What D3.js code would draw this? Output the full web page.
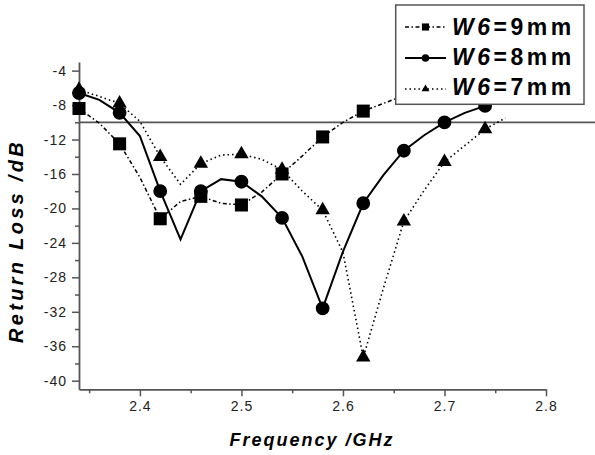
<!DOCTYPE html>
<html>
<head>
<meta charset="utf-8">
<script src="https://cdn.jsdelivr.net/npm/d3@7"></script>
<style>
  body { margin: 0; background: #fff; }
  text { font-family: "Liberation Sans", Arial, sans-serif; }
</style>
</head>
<body>
<div id="chart"></div>
<script>
// frequency points (GHz), markers every second point
var freq = [2.34, 2.36, 2.38, 2.40, 2.42, 2.44, 2.46, 2.48, 2.50, 2.52, 2.54,
            2.56, 2.58, 2.60, 2.62, 2.64, 2.66, 2.68, 2.70, 2.72, 2.74, 2.76];
var w9 = [-8.4, -10.1, -12.5, -16.4, -21.2, -19.2, -18.6, -19.4, -19.6, -18.1, -16.0,
          -13.9, -11.7, -10.0, -8.7, -7.8, -6.9, null, null, null, null, null];
var w8 = [-6.6, -7.4, -8.9, -11.6, -18.0, -23.6, -18.0, -16.6, -16.9, -18.6, -21.1,
          -25.6, -31.6, -25.0, -19.4, -16.1, -13.3, -11.5, -10.0, -8.9, -8.1, -7.3];
var w7 = [-6.2, -7.0, -7.8, -9.9, -14.0, -17.2, -14.8, -13.8, -13.7, -14.3, -15.5,
          -18.0, -20.2, -25.1, -37.3, -29.2, -21.5, -17.9, -14.6, -12.7, -10.8, -9.5];
var seriesNames = ['W6', 'W6', 'W6'];
var seriesUnits = ['=9mm', '=8mm', '=7mm'];
var xTicks = [2.4, 2.5, 2.6, 2.7, 2.8];
var xMinor = [2.35, 2.45, 2.55, 2.65, 2.75];
var yTicks = [-40, -36, -32, -28, -24, -20, -16, -12, -8, -4];
var yMinor = [-38, -34, -30, -26, -22, -18, -14, -10, -6];
var refLevel = -10;

var width = 595, height = 455;
var svg = d3.select('#chart').append('svg')
    .attr('width', width)
    .attr('height', height);

var x = d3.scaleLinear().domain([2.34, 2.8]).range([79, 546]);
var y = d3.scaleLinear().domain([-41, -3]).range([389.3, 62]);

var axisColor = '#555';

// minor ticks
svg.append('g')
    .attr('transform', 'translate(0,' + y(-41) + ')')
    .call(d3.axisBottom(x).tickValues(xMinor).tickSize(4).tickFormat('').tickSizeOuter(0))
    .call(function (g) { g.select('.domain').remove(); });
svg.append('g')
    .attr('transform', 'translate(' + x(2.34) + ',0)')
    .call(d3.axisLeft(y).tickValues(yMinor).tickSize(4).tickFormat('').tickSizeOuter(0))
    .call(function (g) { g.select('.domain').remove(); });

var xAxis = svg.append('g')
    .attr('transform', 'translate(0,' + y(-41) + ')')
    .call(d3.axisBottom(x).tickValues(xTicks).tickSize(7).tickSizeOuter(0).tickPadding(5)
        .tickFormat(d3.format('.1f')));
var yAxis = svg.append('g')
    .attr('transform', 'translate(' + x(2.34) + ',0)')
    .call(d3.axisLeft(y).tickValues(yTicks).tickSize(7).tickSizeOuter(0).tickPadding(5)
        .tickFormat(function (d) { return '-' + Math.abs(d); }));

svg.selectAll('.tick line').attr('stroke', axisColor).attr('stroke-width', 1.5);
svg.selectAll('.domain').attr('stroke', axisColor).attr('stroke-width', 1.8);
svg.selectAll('.tick text')
    .attr('fill', '#222')
    .style('font-size', '14px')
    .style('letter-spacing', '1px')
    .style('font-family', '"Liberation Sans", Arial, sans-serif');

// reference line at -10 dB
svg.append('line')
    .attr('x1', x(2.34)).attr('x2', width)
    .attr('y1', y(refLevel)).attr('y2', y(refLevel))
    .attr('stroke', axisColor)
    .attr('stroke-width', 1.8);

// axis titles
svg.append('text')
    .attr('x', 312).attr('y', 446)
    .attr('text-anchor', 'middle')
    .style('font-size', '18px').style('font-weight', 'bold').style('font-style', 'italic')
    .style('letter-spacing', '2px')
    .text('Frequency /GHz');
svg.append('text')
    .attr('transform', 'translate(23,241) rotate(-90)')
    .attr('text-anchor', 'middle')
    .style('font-size', '20px').style('font-weight', 'bold').style('font-style', 'italic')
    .style('letter-spacing', '3.3px')
    .text('Return Loss /dB');

var series = [
    { vals: w9, dash: '4,2.5,1.5,2.5', width: 1.5, sym: d3.symbolSquare, size: 170 },
    { vals: w8, dash: null, width: 2, sym: d3.symbolCircle, size: 150 },
    { vals: w7, dash: '1.5,3', width: 1.6, sym: d3.symbolTriangle, size: 90 }
];

var line = d3.line()
    .defined(function (d) { return d[1] !== null; })
    .x(function (d) { return x(d[0]); })
    .y(function (d) { return y(d[1]); });

series.forEach(function (s) {
    var pts = freq.map(function (f, i) { return [f, s.vals[i]]; });
    svg.append('path')
        .datum(pts)
        .attr('d', line)
        .attr('fill', 'none')
        .attr('stroke', '#000')
        .attr('stroke-width', s.width)
        .attr('stroke-dasharray', s.dash);
    svg.append('g').selectAll('path')
        .data(pts.filter(function (d, i) { return i % 2 === 0 && d[1] !== null; }))
        .enter()
        .append('path')
        .attr('d', d3.symbol().type(s.sym).size(s.size))
        .attr('transform', function (d) {
            return 'translate(' + x(d[0]) + ',' + y(d[1]) + ')';
        })
        .attr('fill', '#000');
});

// legend
var lg = svg.append('g');
lg.append('rect')
    .attr('x', 395.7).attr('y', 5)
    .attr('width', 188.3).attr('height', 99.3)
    .attr('fill', '#fff')
    .attr('stroke', axisColor)
    .attr('stroke-width', 1.5);

series.forEach(function (s, i) {
    var cy = 27 + i * 31;
    lg.append('line')
        .attr('x1', 405).attr('x2', 446)
        .attr('y1', cy).attr('y2', cy)
        .attr('stroke', '#000')
        .attr('stroke-width', s.width)
        .attr('stroke-dasharray', s.dash);
    lg.append('path')
        .attr('d', d3.symbol().type(s.sym).size(s.size * 0.3))
        .attr('transform', 'translate(425.5,' + cy + ')')
        .attr('fill', '#000');
    var t = lg.append('text')
        .attr('x', 452).attr('y', 35 + i * 30)
        .style('font-size', '23px').style('font-weight', 'bold')
        .style('letter-spacing', '3.5px');
    t.append('tspan').style('font-style', 'italic').text(seriesNames[i]);
    t.append('tspan').text(seriesUnits[i]);
});
</script>
</body>
</html>
